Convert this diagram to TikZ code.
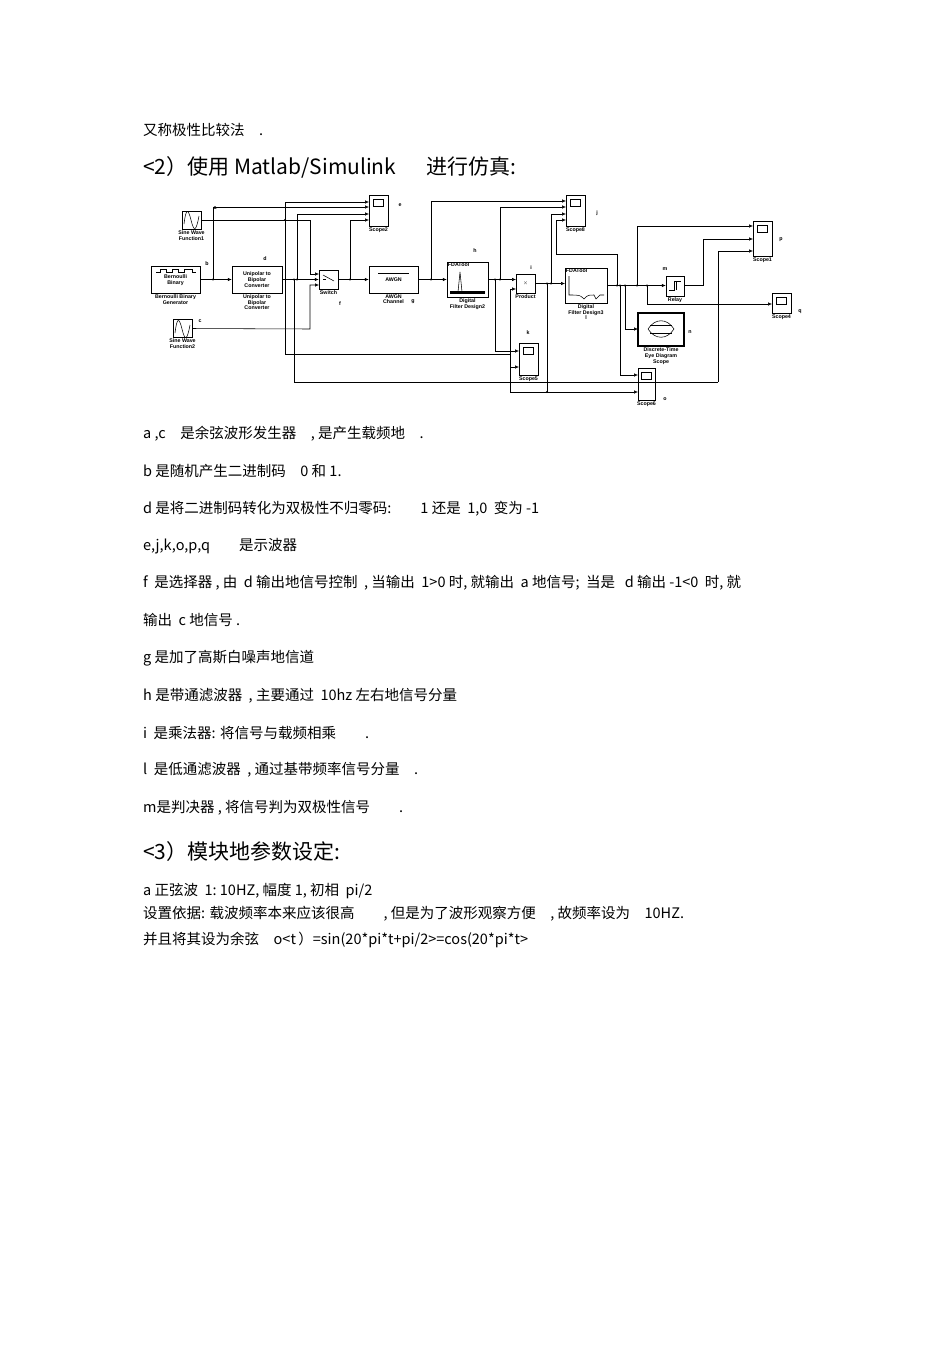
\documentclass[tikz,border=0pt]{standalone}
\usepackage{fontspec}
\setmainfont{Liberation Sans}
\newfontfamily\cjk{Noto Sans CJK SC}
\usetikzlibrary{arrows.meta}
\newcommand\scp[6]{% name, cx, top, w, h, label
\node[draw,line width=0.5pt,minimum width=#4pt,minimum height=#5pt,inner sep=0pt,anchor=north] (#1) at (#2,#3) {};
\draw[line width=0.5pt] ([xshift=-5pt,yshift=-4pt]#1.north) rectangle ([xshift=5pt,yshift=-11pt]#1.north);
\node[dlab,anchor=north] at (#1.south) {#6};}
\begin{document}
\begin{tikzpicture}[x=1pt,y=-1pt,
  dlab/.style={font=\fontsize{5.3}{5.8}\selectfont\bfseries,align=center,inner sep=1pt},
  blk/.style={draw,line width=0.5pt,inner sep=0pt,font=\fontsize{5.3}{5.8}\selectfont\bfseries,align=center},
  w/.style={-{Latex[length=4pt,width=3.5pt]},line width=0.55pt},
  ln/.style={line width=0.55pt},
  body/.style={anchor=west,inner sep=0pt,font=\cjk\fontsize{14.5}{17}\selectfont},
  head/.style={anchor=west,inner sep=0pt,font=\cjk\fontsize{21}{24}\selectfont}]
\useasboundingbox (0,0) rectangle (950,1345);
% ---- blocks
\node[blk,minimum width=19pt,minimum height=18pt] (s1) at (191.5,220) {};
\draw[ln] (184,224) .. controls (186,208) and (188,208) .. (191,220) .. controls (194,232) and (196,232) .. (199,216);
\node[dlab,anchor=north] at (s1.south) {Sine Wave\\Function1};
\node[blk,minimum width=49pt,minimum height=27pt] (bern) at (175.5,279.5) {\\Bernoulli\\Binary};
\draw[ln] (156,272) -- (160,272) -- (160,269) -- (166,269) -- (166,272) -- (172,272) -- (172,269) -- (178,269) -- (178,272) -- (184,272) -- (184,269) -- (192,269) -- (192,272) -- (196,272);
\node[dlab,anchor=north] at (bern.south) {Bernoulli Binary\\Generator};
\node[blk,minimum width=19pt,minimum height=18pt] (s2) at (182.5,328.5) {};
\draw[ln] (175,333) .. controls (177,317) and (179,317) .. (182,329) .. controls (185,341) and (187,341) .. (190,325);
\node[dlab,anchor=north] at (s2.south) {Sine Wave\\Function2};
\node[blk,minimum width=50pt,minimum height=27pt] (uni) at (257,279.5) {Unipolar to\\Bipolar\\Converter};
\node[dlab,anchor=north] at (uni.south) {Unipolar to\\Bipolar\\Converter};
\node[blk,minimum width=19pt,minimum height=19pt] (sw) at (328.5,279.5) {};
\draw[ln] (323,275) -- (334,281); \draw[ln] (323,279.5)--(326,279.5);
\node[dlab,anchor=north] at (sw.south) {Switch};
\node[blk,minimum width=49pt,minimum height=27pt] (awgn) at (393.5,279.5) {AWGN};
\draw[ln] (378,273) -- (409,273);
\node[dlab,anchor=north] at (awgn.south) {AWGN\\Channel};
\node[blk,minimum width=41pt,minimum height=35pt] (f2) at (467.5,279.5) {};
\node[dlab,anchor=north west] at (f2.north west) {FDATool};
\draw[ln] (450,292) -- (458,292) -- (460,272) -- (462,292) -- (485,292);
\fill (450,291) rectangle (485,294);
\node[dlab,anchor=north] at (f2.south) {Digital\\Filter Design2};
\scp{sc2}{378.5}{195}{19}{31}{Scope2}
\scp{sc8}{575.5}{195}{19}{31}{Scope8}
\node[blk,minimum width=19pt,minimum height=19pt] (prod) at (525.5,283.5) {$\times$};
\node[dlab,anchor=north] at (prod.south) {Product};
\node[blk,minimum width=42pt,minimum height=35pt] (f3) at (586,285.5) {};
\node[dlab,anchor=north west] at (f3.north west) {FDATool};
\draw[ln] (569,276) -- (569,295) .. controls (580,295) .. (584,299) .. controls (588,295) .. (594,295) -- (596,299) -- (600,295) -- (604,295);
\node[dlab,anchor=north] at (f3.south) {Digital\\Filter Design3\\l};
\node[blk,minimum width=18pt,minimum height=20pt] (relay) at (675,286) {};
\draw[ln] (669,290) -- (674,290) -- (674,281) -- (681,281); \draw[ln] (676,290)--(676,281);
\node[dlab,anchor=north] at (relay.south) {Relay};
\scp{sc1}{762.5}{221}{19}{35}{Scope1}
\scp{sc4}{781.5}{293}{19}{20}{Scope4}
\node[blk,minimum width=46pt,minimum height=33pt,line width=1.4pt] (eye) at (661,329.5) {};
\draw[ln] (648,329) .. controls (655,318) and (667,318) .. (674,329) .. controls (667,340) and (655,340) .. (648,329);
\draw[ln] (650,325) -- (672,325); \draw[ln] (650,333) -- (672,333);
\node[dlab,anchor=north] at (eye.south) {Discrete-Time\\Eye Diagram\\Scope};
\scp{sc5}{528.5}{343}{19}{32}{Scope5}
\scp{sc6}{646.5}{368}{17}{32}{Scope6}
% ---- letters
\foreach \t/\x/\y in {a/215/208,b/207/264,c/200/321,d/265/259,e/400/205,f/340/304,g/413/302,h/475/251,i/531/268,j/597/213,k/528/333,m/665/269,n/690/332,o/665/399,p/781/240,q/800/312}
  \node[dlab] at (\x,\y) {\t};
% ---- wires
\draw[w] (bern.east|-0,279.5) -- (uni.west|-0,279.5);
\draw[w] (213,279.5) -- (213,207) -- (369,207);
\draw[w] (s1.east) -- (310,220) -- (310,274) -- (319,274);
\draw[w] (285,354) -- (285,202) -- (369,202);
\draw[ln] (285,354) -- (510,354);
\draw[w] (uni.east) -- (sw.west);
\draw[w] (297,279.5) -- (297,214) -- (369,214);
\draw[ln] (294,279.5) -- (294,382) -- (718,382);
\draw[w] (718,382) -- (718,251) -- (753,251);
\draw[w] (s2.east) -- (310,329) -- (310,285) -- (319,285);
\draw[w] (sw.east) -- (awgn.west);
\draw[w] (350,279.5) -- (350,220) -- (369,220);
\draw[w] (awgn.east) -- (f2.west);
\draw[w] (431,279.5) -- (431,201) -- (566,201);
\draw[w] (f2.east) -- (516,279.5);
\draw[w] (500,279.5) -- (500,207) -- (566,207);
\draw[w] (495,279.5) -- (495,351) -- (519,351);
\draw[w] (510,289) -- (516,289);
\draw[w] (510,289) -- (510,367) -- (519,367);
\draw[w] (510,367) -- (510,392) -- (638,392);
\draw[w] (prod.east) -- (565,283.5);
\draw[w] (551,283.5) -- (551,214) -- (566,214);
\draw[ln] (547,283.5) -- (547,392);
\draw[w] (f3.east|-0,285.5) -- (relay.west|-0,285.5);
\draw[w] (617,285.5) -- (617,254) -- (556,254) -- (556,220) -- (566,220);
\draw[w] (620,285.5) -- (620,375) -- (638,375);
\draw[w] (625,285.5) -- (625,329) -- (638,329);
\draw[w] (637,285.5) -- (637,226) -- (753,226);
\draw[w] (647,285.5) -- (647,304) -- (772,304);
\draw[w] (relay.east|-0,285.5) -- (703,285.5) -- (703,239) -- (753,239);
\foreach \x/\y in {213/279.5,285/220,294/279.5,297/279.5,350/279.5,431/279.5,495/279.5,500/279.5,547/283.5,551/283.5,547/392,617/285.5,620/285.5,625/285.5,637/285.5,647/285.5}
  \fill (\x,\y) circle (1.1);
% ---- text
\node[body] at (143,130) {又称极性比较法\quad .};
\node[head] at (143,167) {<2）使用 Matlab/Simulink\quad\ \ 进行仿真:};
\node[body] at (143,434) {a ,c\quad 是余弦波形发生器\quad , 是产生载频地\quad .};
\node[body] at (143,471) {b 是随机产生二进制码\quad 0 和 1.};
\node[body] at (143,509) {d 是将二进制码转化为双极性不归零码:\qquad 1 还是\ \ 1,0\ \ 变为 -1};
\node[body] at (143,546) {e,j,k,o,p,q\qquad 是示波器};
\node[body] at (143,583) {f\ \ 是选择器 , 由\ \ d 输出地信号控制\ \ , 当输出\ \ 1>0 时, 就输出\ \ a 地信号;\ \ 当是\ \ \ d 输出 -1<0\ \ 时, 就};
\node[body] at (143,620) {输出\ \ c 地信号 .};
\node[body] at (143,658) {g 是加了高斯白噪声地信道};
\node[body] at (143,696) {h 是带通滤波器\ \ , 主要通过\ \ 10hz 左右地信号分量};
\node[body] at (143,733) {i\ \ 是乘法器: 将信号与载频相乘\qquad .};
\node[body] at (143,770) {l\ \ 是低通滤波器\ \ , 通过基带频率信号分量\quad .};
\node[body] at (143,808) {m是判决器 , 将信号判为双极性信号\qquad .};
\node[head] at (143,852) {<3）模块地参数设定:};
\node[body] at (143,891) {a\ 正弦波\ \ 1:\ 10HZ, 幅度 1, 初相\ \ pi/2};
\node[body] at (143,914) {设置依据: 载波频率本来应该很高\qquad , 但是为了波形观察方便\quad , 故频率设为\quad 10HZ.};
\node[body] at (143,940) {并且将其设为余弦\quad o<t\,）=sin(20*pi*t+pi/2>=cos(20*pi*t>};
\end{tikzpicture}
\end{document}
